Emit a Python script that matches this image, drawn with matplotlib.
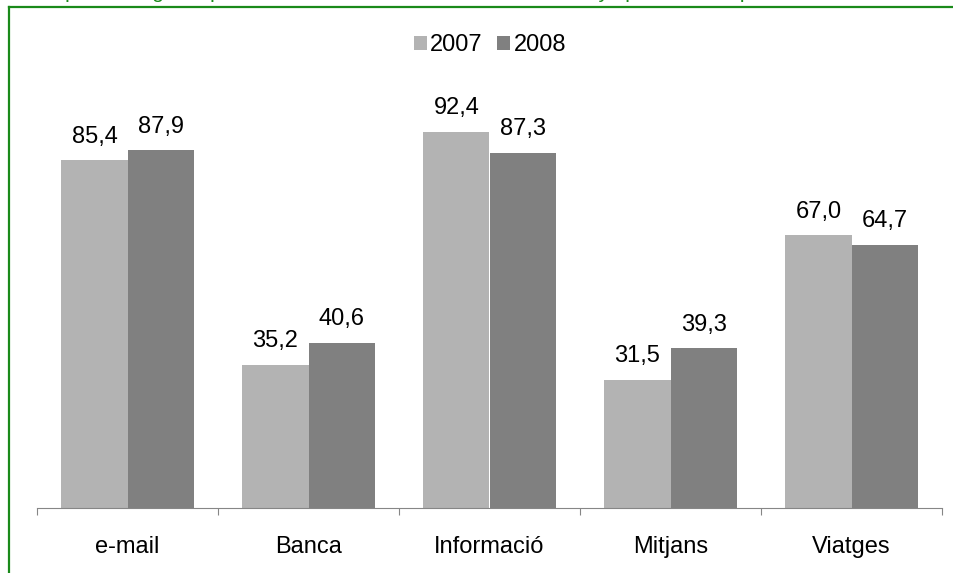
import numpy as np
import matplotlib.pyplot as plt
from matplotlib.lines import Line2D

plt.rcParams['font.family'] = ['Liberation Sans', 'DejaVu Sans']

categories = ["e-mail", "Banca", "Informació", "Mitjans", "Viatges"]
vals_2007 = [85.4, 35.2, 92.4, 31.5, 67.0]
vals_2008 = [87.9, 40.6, 87.3, 39.3, 64.7]
years = ["2007", "2008"]
title = "Gràfic percentatge respecte del total d'internautes de 16 a 74 anys per a cada tipus d'ús"

W, H = 954, 573
fig = plt.figure(figsize=(W / 100, H / 100), dpi=100)
ax = fig.add_axes([37 / W, 1 - 508 / H, (942 - 37) / W, (508 - 101) / H])

x = np.arange(len(categories))
bw = 0.365
b1 = ax.bar(x - bw / 2, vals_2007, bw, color="#b3b3b3", label=years[0])
b2 = ax.bar(x + bw / 2, vals_2008, bw, color="#808080", label=years[1])

fmt = lambda v: f"{v:.1f}".replace(".", ",")
for bars in (b1, b2):
    for r in bars:
        ax.annotate(fmt(r.get_height()), (r.get_x() + r.get_width() / 2, r.get_height()),
                    xytext=(0, 9), textcoords="offset points", ha="center", va="bottom",
                    fontsize=17)

ax.set_xlim(-0.5, len(categories) - 0.5)
ax.set_ylim(0, 100)
ax.set_yticks([])
for s in ("top", "right", "left"):
    ax.spines[s].set_visible(False)
ax.spines["bottom"].set_color("#868686")
ax.set_xticks(np.arange(len(categories) + 1) - 0.5)
ax.set_xticklabels([])
ax.set_xticks(x, minor=True)
ax.set_xticklabels(categories, minor=True, fontsize=17)
ax.tick_params(axis="x", which="major", length=5, color="#868686", direction="out")
ax.tick_params(axis="x", which="minor", length=0, pad=20)

leg = fig.legend(loc="center", bbox_to_anchor=(490 / W, 1 - 45 / H), ncol=2, frameon=False,
                 fontsize=17, handlelength=0.55, handleheight=0.55, handletextpad=0.15,
                 columnspacing=0.6)

# green frame: only its left and top edges fall inside the picture
fx, fy = 9.5 / W, 1 - 7 / H
fig.add_artist(Line2D([fx, fx], [-0.1, fy], transform=fig.transFigure, color="#1a8a1a", lw=1.6))
fig.add_artist(Line2D([fx, 1.1], [fy, fy], transform=fig.transFigure, color="#1a8a1a", lw=1.6))
fig.text(4 / W, 1 + 2 / H, title, color="#1a8a1a", fontsize=15, ha="left", va="baseline")

fig.savefig("out.png", dpi=100)
